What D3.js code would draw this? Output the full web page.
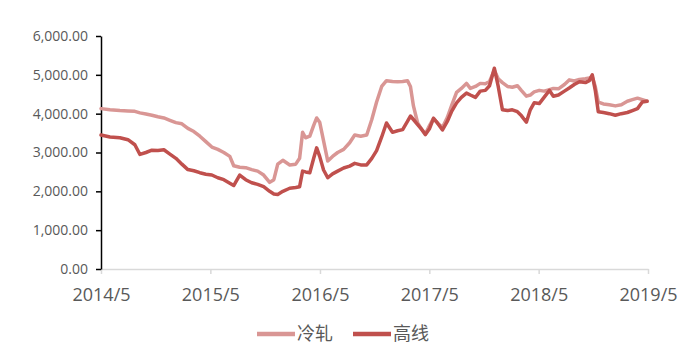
<!DOCTYPE html>
<html>
<head>
<meta charset="utf-8">
<script src="https://cdn.jsdelivr.net/npm/d3@7"></script>
<style>
  html, body { margin: 0; padding: 0; background: #fff; }
  svg { display: block; }
</style>
</head>
<body>
<svg id="chart" width="678" height="346"></svg>
<script>
// Weekly price series, 2014/5 – 2019/5
const dates = [
  "2014-05-01","2014-05-31","2014-07-03","2014-07-30","2014-08-22","2014-09-08","2014-09-28","2014-10-18",
  "2014-11-07","2014-11-27","2014-12-17","2015-01-06","2015-01-26","2015-02-15","2015-03-07","2015-03-27",
  "2015-04-16","2015-05-06","2015-05-26","2015-06-15","2015-07-05","2015-07-18","2015-08-07","2015-08-27",
  "2015-09-16","2015-10-06","2015-10-26","2015-11-15","2015-11-29","2015-12-12","2015-12-29","2016-01-21",
  "2016-02-10","2016-02-23","2016-03-04","2016-03-14","2016-03-28","2016-04-10","2016-04-20","2016-04-30",
  "2016-05-13","2016-05-27","2016-06-12","2016-06-29","2016-07-19","2016-08-08","2016-08-25","2016-09-14",
  "2016-10-04","2016-10-21","2016-11-06","2016-11-23","2016-12-09","2016-12-29","2017-01-15","2017-02-01",
  "2017-02-17","2017-02-27","2017-03-09","2017-03-23","2017-04-05","2017-04-18","2017-05-02","2017-05-15",
  "2017-05-28","2017-06-14","2017-06-30","2017-07-14","2017-07-31","2017-08-16","2017-09-02","2017-09-15",
  "2017-10-02","2017-10-18","2017-11-04","2017-11-18","2017-12-04","2017-12-17","2017-12-31","2018-01-17",
  "2018-02-02","2018-02-19","2018-03-04","2018-03-21","2018-04-03","2018-04-16","2018-05-03","2018-05-19",
  "2018-06-06","2018-06-19","2018-07-06","2018-07-26","2018-08-11","2018-08-28","2018-09-14","2018-10-04",
  "2018-10-17","2018-10-27","2018-11-06","2018-11-16","2018-12-03","2018-12-23","2019-01-12","2019-02-01",
  "2019-02-21","2019-03-10","2019-03-27","2019-04-12","2019-04-28"
];

// 冷轧
const coldRolled = [
  4130,4100,4080,4070,4060,4020,3990,3960,
  3920,3890,3830,3770,3740,3620,3540,3420,
  3280,3140,3080,3000,2900,2660,2620,2610,
  2560,2520,2420,2230,2300,2700,2800,2680,
  2700,2850,3520,3380,3420,3700,3890,3780,
  3300,2780,2900,3000,3080,3250,3450,3420,
  3450,3850,4300,4700,4850,4830,4820,4830,
  4850,4700,4200,3760,3600,3480,3700,3880,
  3760,3650,3900,4200,4550,4650,4780,4650,
  4700,4780,4770,4830,5120,4900,4800,4700,
  4680,4720,4600,4450,4480,4560,4600,4580,
  4620,4650,4640,4750,4870,4840,4880,4900,
  4920,4950,4700,4300,4250,4230,4200,4230,
  4320,4360,4400,4360,4320
];

// 高线
const wireRod = [
  3450,3400,3380,3330,3200,2950,3000,3060,
  3050,3070,2960,2850,2700,2560,2530,2480,
  2440,2420,2350,2300,2210,2150,2420,2300,
  2220,2180,2120,2000,1930,1920,2000,2080,
  2100,2120,2520,2500,2480,2850,3120,2900,
  2550,2350,2450,2520,2600,2650,2720,2680,
  2680,2850,3050,3400,3760,3520,3560,3590,
  3800,3940,3850,3720,3600,3460,3620,3880,
  3760,3580,3800,4050,4280,4420,4530,4480,
  4420,4580,4600,4720,5170,4700,4100,4080,
  4100,4050,3950,3780,4100,4280,4260,4420,
  4600,4450,4480,4580,4660,4750,4820,4800,
  4850,5000,4600,4050,4030,4000,3960,4000,
  4030,4080,4130,4300,4320
];

const yTicks = [0, 1000, 2000, 3000, 4000, 5000, 6000];
const xTickLabels = ["2014/5", "2015/5", "2016/5", "2017/5", "2018/5", "2019/5"];

const seriesNames = ["冷轧", "高线"];
const seriesColors = ["#D99694", "#C0504D"];

const parse = d3.timeParse("%Y-%m-%d");
const xs = dates.map(parse);
const tickDates = xTickLabels.map(s => d3.timeParse("%Y/%m")(s));

const svg = d3.select("#chart");
const plotLeft = 101, plotRight = 648, plotTop = 36, plotBottom = 269;

const x = d3.scaleTime()
  .domain([tickDates[0], tickDates[tickDates.length - 1]])
  .range([plotLeft, plotRight]);
const y = d3.scaleLinear().domain([0, 6000]).range([plotBottom, plotTop]);

const textColor = "#595959";

// X axis: light grey baseline with downward ticks
const xAxis = svg.append("g")
  .attr("transform", `translate(0,${plotBottom})`)
  .call(d3.axisBottom(x)
    .tickValues(tickDates)
    .tickFormat((d, i) => xTickLabels[i])
    .tickSize(5)
    .tickSizeOuter(0)
    .tickPadding(14));
xAxis.select(".domain").attr("stroke", "#D9D9D9").attr("stroke-width", 1.5);
xAxis.selectAll(".tick line").attr("stroke", "#D9D9D9").attr("stroke-width", 1.5);
xAxis.selectAll(".tick text")
  .attr("fill", textColor)
  .style("font-family", "'Open Sans', sans-serif")
  .style("font-size", "18px");

// Y axis: black line with ticks on the left
const yAxis = svg.append("g")
  .attr("transform", `translate(${plotLeft},0)`)
  .call(d3.axisLeft(y)
    .tickValues(yTicks)
    .tickFormat(d3.format(",.2f"))
    .tickSize(5)
    .tickSizeOuter(0)
    .tickPadding(8));
yAxis.select(".domain").attr("stroke", "#000").attr("stroke-width", 1.5);
yAxis.selectAll(".tick line").attr("stroke", "#000").attr("stroke-width", 1.5);
yAxis.selectAll(".tick text")
  .attr("fill", textColor)
  .style("font-family", "'Open Sans', sans-serif")
  .style("font-size", "14px");

// Lines
const line = d3.line()
  .x((d, i) => x(xs[i]))
  .y(d => y(d))
  .curve(d3.curveLinear);

[coldRolled, wireRod].forEach((vals, k) => {
  svg.append("path")
    .datum(vals)
    .attr("fill", "none")
    .attr("stroke", seriesColors[k])
    .attr("stroke-width", 3.5)
    .attr("stroke-linejoin", "round")
    .attr("stroke-linecap", "round")
    .attr("d", line);
});

// Legend
const legend = svg.append("g").attr("transform", "translate(257,334)");
const legendOffsets = [0, 96];
legendOffsets.forEach((dx, k) => {
  const g = legend.append("g").attr("transform", `translate(${dx},0)`);
  g.append("line")
    .attr("x1", 0).attr("x2", 38)
    .attr("y1", 0).attr("y2", 0)
    .attr("stroke", seriesColors[k])
    .attr("stroke-width", 4.5);
  g.append("text")
    .attr("x", 40)
    .attr("y", 0)
    .attr("dy", "0.36em")
    .attr("fill", textColor)
    .style("font-family", "'Noto Sans CJK SC', sans-serif")
    .style("font-size", "18px")
    .text(seriesNames[k]);
});
</script>
</body>
</html>
